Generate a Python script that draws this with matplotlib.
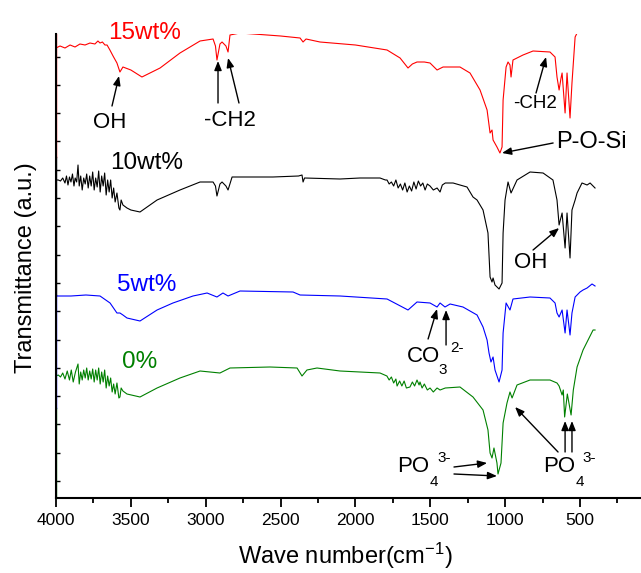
import numpy as np
import matplotlib
matplotlib.use("Agg")
import matplotlib.pyplot as plt
from matplotlib.ticker import MultipleLocator

plt.rcParams["font.family"] = ["Liberation Sans", "DejaVu Sans"]
plt.rcParams["mathtext.fontset"] = "custom"
plt.rcParams["mathtext.rm"] = "Liberation Sans"
plt.rcParams["mathtext.it"] = "Liberation Sans:italic"

# ── Spectra (wavenumber cm-1, offset transmittance a.u.) ──────────────────────
wn_15 = [4000, 3973, 3940, 3906, 3873, 3840, 3806, 3773, 3740, 3720,
         3706, 3690, 3673, 3659, 3640, 3619, 3593, 3573, 3553, 3500,
         3426, 3305, 3172, 3038, 2951, 2935, 2925, 2905, 2891, 2865,
         2851, 2838, 2771, 2500, 2370, 2350, 2330, 2237, 2000, 1789,
         1702, 1649, 1620, 1589, 1540, 1502, 1455, 1415, 1302, 1235,
         1168, 1121, 1101, 1088, 1081, 1055, 1035, 1021, 1014, 994,
         981, 968, 961, 948, 881, 814, 701, 667, 654, 640,
         627, 620, 600, 587, 567, 554, 533, 500, 487, 480,
         453, 420, 413, 407, 400]
t_15 = [450, 452, 450, 453, 451, 454, 453, 455, 454, 457,
        455, 456, 453, 453, 448, 442, 435, 426, 431, 428,
        421, 430, 445, 457, 459, 452, 438, 454, 456, 452,
        446, 463, 465, 462, 460, 456, 459, 456, 453, 448,
        440, 430, 434, 436, 436, 435, 428, 431, 431, 425,
        408, 388, 365, 368, 358, 351, 345, 351, 398, 431,
        436, 433, 421, 438, 443, 447, 446, 441, 421, 408,
        420, 425, 385, 425, 380, 415, 461, 471, 468, 471,
        478, 486, 490, 485, 485]

wn_10 = [4000, 3985, 3970, 3955, 3940, 3930, 3920, 3910, 3900, 3890,
         3880, 3872, 3862, 3853, 3845, 3835, 3825, 3815, 3805, 3795,
         3785, 3775, 3765, 3755, 3745, 3735, 3725, 3715, 3705, 3695,
         3685, 3675, 3665, 3655, 3645, 3635, 3625, 3615, 3605, 3593,
         3580, 3573, 3565, 3553, 3526, 3500, 3439, 3325, 3172, 3038,
         2951, 2935, 2925, 2905, 2891, 2865, 2851, 2824, 2551, 2380,
         2357, 2350, 2340, 2103, 1970, 1836, 1800, 1789, 1775, 1760,
         1745, 1730, 1715, 1700, 1685, 1670, 1655, 1640, 1625, 1610,
         1595, 1580, 1565, 1550, 1535, 1520, 1502, 1480, 1455, 1435,
         1420, 1400, 1348, 1302, 1255, 1215, 1188, 1148, 1115, 1101,
         1088, 1081, 1068, 1041, 1021, 1014, 1001, 981, 961, 921,
         834, 747, 681, 654, 640, 620, 600, 587, 567, 554,
         533, 520, 487, 453, 433, 400]
t_10 = [318, 318, 317, 320, 315, 322, 313, 321, 316, 324,
        312, 320, 316, 333, 312, 322, 308, 320, 314, 324,
        310, 322, 312, 326, 308, 320, 311, 327, 306, 322,
        312, 325, 303, 318, 306, 318, 300, 310, 296, 305,
        290, 288, 298, 293, 290, 288, 286, 298, 308, 316,
        316, 312, 302, 314, 316, 312, 308, 321, 321, 322,
        323, 316, 320, 319, 320, 320, 318, 318, 314, 316,
        312, 318, 310, 314, 308, 315, 306, 312, 307, 316,
        309, 317, 312, 315, 308, 314, 312, 308, 310, 306,
        313, 315, 315, 313, 311, 301, 298, 288, 265, 221,
        216, 220, 213, 209, 215, 265, 298, 316, 305, 318,
        326, 325, 318, 298, 273, 285, 250, 285, 240, 288,
        298, 305, 315, 313, 315, 310]

wn_5 = [4000, 3900, 3800, 3706, 3639, 3593, 3573, 3553, 3526, 3439,
        3325, 3219, 3085, 2991, 2925, 2885, 2851, 2771, 2417, 2370,
        2103, 1789, 1649, 1589, 1502, 1455, 1435, 1402, 1368, 1282,
        1188, 1148, 1121, 1108, 1095, 1081, 1068, 1041, 1021, 1014,
        994, 968, 948, 834, 701, 667, 654, 640, 620, 600,
        587, 567, 554, 533, 500, 480, 453, 420, 400]
t_5 = [202, 202, 203, 202, 195, 185, 185, 183, 180, 177,
       188, 195, 202, 205, 201, 205, 202, 207, 206, 203,
       202, 199, 188, 196, 195, 191, 195, 191, 194, 191,
       183, 171, 158, 145, 136, 141, 128, 116, 128, 165,
       195, 188, 199, 201, 200, 195, 185, 181, 188, 165,
       188, 163, 185, 201, 206, 208, 210, 214, 212]

wn_0 = [4000, 3985, 3970, 3955, 3940, 3925, 3910, 3898, 3885, 3870,
        3853, 3845, 3835, 3825, 3815, 3805, 3795, 3785, 3775, 3765,
        3755, 3745, 3735, 3725, 3715, 3705, 3695, 3685, 3675, 3665,
        3655, 3645, 3635, 3625, 3615, 3605, 3593, 3580, 3573, 3565,
        3553, 3526, 3439, 3325, 3172, 3038, 2905, 2838, 2571, 2390,
        2357, 2324, 2257, 2103, 1836, 1790, 1775, 1760, 1745, 1730,
        1722, 1705, 1690, 1675, 1660, 1636, 1620, 1605, 1589, 1575,
        1569, 1555, 1540, 1520, 1502, 1480, 1455, 1435, 1400, 1302,
        1215, 1148, 1115, 1101, 1088, 1075, 1055, 1048, 1028, 1014,
        988, 968, 954, 921, 834, 701, 654, 640, 620, 612,
        603, 585, 560, 545, 520, 480, 413, 400]
t_0 = [122, 123, 121, 125, 119, 127, 118, 128, 116, 126,
       134, 114, 126, 118, 128, 120, 130, 118, 127, 119,
       129, 116, 128, 118, 130, 114, 126, 116, 128, 110,
       122, 112, 120, 106, 114, 104, 115, 100, 101, 110,
       107, 104, 101, 110, 120, 127, 125, 130, 131, 130,
       122, 128, 130, 127, 125, 122, 118, 121, 115, 119,
       112, 117, 112, 117, 110, 111, 116, 112, 118, 113,
       116, 110, 114, 108, 110, 106, 110, 108, 110, 111,
       101, 88, 68, 45, 40, 50, 35, 24, 35, 75,
       95, 106, 100, 113, 118, 118, 115, 112, 103, 108,
       81, 104, 83, 108, 131, 148, 168, 168]

labels = ["15wt%", "10wt%", "5wt%", "0%"]
colors = ["#ff0000", "#000000", "#0000ff", "#008000"]

W, H = 641, 573
fig = plt.figure(figsize=(W / 100, H / 100), dpi=100)
ax = fig.add_axes([56 / W, (H - 498) / H, 1 - 56 / W, (498 - 34) / H])

for wn, t, c in zip([wn_15, wn_10, wn_5, wn_0], [t_15, t_10, t_5, t_0], colors):
    ax.plot(wn, t, color=c, lw=0.8)

ax.set_xlim(4000, 93)
ax.set_ylim(0, 464)
ax.xaxis.set_major_locator(MultipleLocator(500))
ax.xaxis.set_minor_locator(MultipleLocator(250))
ax.set_yticks(np.arange(17, 450, 28.3))
ax.tick_params(axis="x", which="major", direction="out", length=6.5, width=1.3,
               labelsize=12.5, pad=4)
ax.tick_params(axis="x", which="minor", direction="out", length=3.6, width=1.3)
ax.tick_params(axis="y", direction="in", length=3, width=1, labelleft=False)
for s in ["top", "right"]:
    ax.spines[s].set_visible(False)
for s in ["left", "bottom"]:
    ax.spines[s].set_linewidth(1.5)

# coloured segments over the left spine
for (y0, y1), c in zip([(0.735, 1.0), (0.4375, 0.735), (0.194, 0.4375), (0.0, 0.194)], colors):
    ax.plot([0, 0], [y0, y1], transform=ax.transAxes, color=c, lw=1.0, clip_on=False)

# sample labels
lab_pos = [(3406, 465), (3392, 335), (3392, 213), (3439, 136)]
for (x, y), txt, c in zip(lab_pos, labels, colors):
    ax.text(x, y, txt, color=c, fontsize=17.5, ha="center", va="center")

arrow = dict(arrowstyle="-|>,head_length=0.55,head_width=0.22", color="black",
             lw=1.0, shrinkA=0, shrinkB=0)


def ann(txt, xy, size=16):
    ax.text(xy[0], xy[1], txt, fontsize=size, ha="center", va="center")


def arr(start, end):
    ax.annotate("", xy=end, xytext=start, arrowprops=arrow)


ann("OH", (3639, 376))
arr((3626, 392), (3579, 422))
ann("-CH2", (2838, 377))
arr((2918, 395), (2918, 437))
arr((2778, 395), (2851, 440))
ann("-CH2", (801, 394), size=13.5)
arr((794, 405), (727, 441))
ann("P-O-Si", (427, 356), size=17)
arr((680, 355), (1021, 345))
ann("OH", (827, 235))
arr((814, 248), (640, 270))

# CO3 2-
ann("CO", (1546, 142))
ann("3", (1415, 128), size=11)
ann("2-", (1322, 150), size=11)
arr((1515, 159), (1455, 189))
arr((1395, 153), (1395, 188))

# PO4 3- (left)
ann("PO", (1616, 31.5))
ann("4", (1475, 16), size=11)
ann("3-", (1409, 40), size=11)
arr((1342, 31), (1121, 35))
arr((1342, 24), (1055, 22))

# PO4 3- (right)
ann("PO", (637, 31.5))
ann("4", (500, 16), size=11)
ann("3-", (437, 40), size=11)
arr((647, 46), (934, 91))
arr((600, 46), (600, 77))
arr((554, 46), (554, 77))

fig.text(345 / W, 1 - 556 / H, r"Wave number(cm$^{-1}$)", fontsize=17,
         ha="center", va="center")
fig.text(26 / W, 1 - 268 / H, "Transmittance (a.u.)", fontsize=17,
         ha="center", va="center", rotation=90)

fig.savefig("out.png", dpi=100)
